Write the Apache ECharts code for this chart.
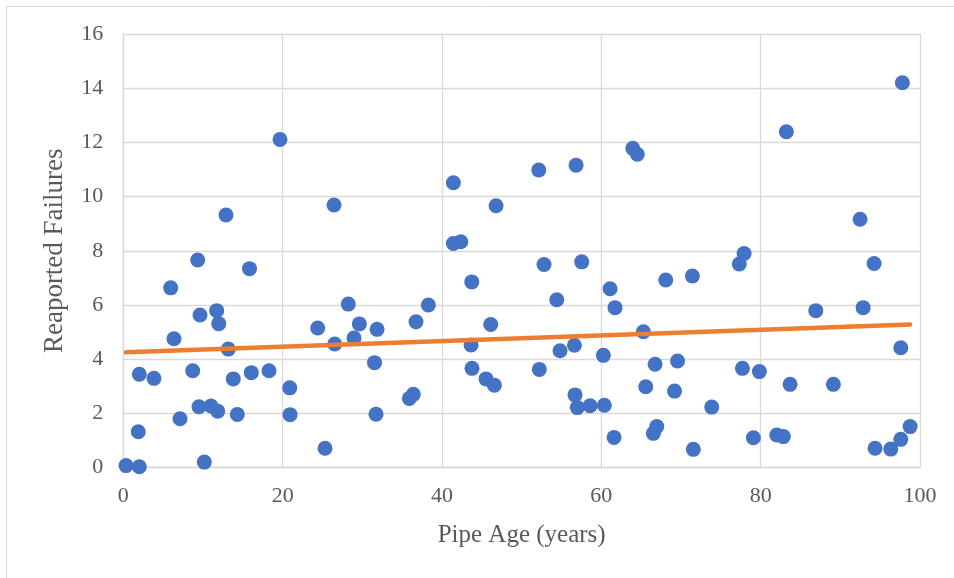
<!DOCTYPE html>
<html>
<head>
<meta charset="utf-8">
<style>
  html, body { margin: 0; padding: 0; background: #fff; }
  #chart { width: 954px; height: 578px; }
</style>
<script src="https://cdn.jsdelivr.net/npm/echarts@6/dist/echarts.min.js"></script>
</head>
<body>
<div id="chart"></div>
<script>
// pipe age (years) of each pipe
const pipeAge = [
  0.34, 2.01, 1.88, 2.01, 3.85, 5.95, 6.36, 7.12, 8.71, 9.34,
  9.63, 9.50, 10.17, 11.01, 11.72, 11.85, 11.98, 12.89, 13.18, 13.81,
  14.31, 15.84, 16.07, 18.29, 19.67, 20.89, 20.93, 24.40, 25.32, 26.45,
  26.54, 28.24, 28.96, 29.63, 31.53, 31.85, 31.72, 35.90, 36.40, 36.74,
  38.29, 41.43, 41.43, 42.36, 43.74, 43.65, 43.77, 45.53, 46.12, 46.57,
  46.79, 52.15, 52.22, 52.81, 54.41, 54.82, 56.62, 56.83, 56.70, 56.99,
  57.54, 58.59, 60.26, 60.38, 61.10, 61.60, 61.72, 63.95, 64.52, 65.28,
  65.58, 66.75, 66.53, 66.96, 68.09, 69.19, 69.57, 71.43, 71.55, 73.86,
  77.32, 77.71, 77.92, 79.09, 79.84, 82.02, 82.85, 83.23, 83.69, 86.92,
  89.13, 92.48, 92.86, 94.24, 94.36, 96.33, 97.59, 97.79, 97.59, 98.76
]

// reported failures, same order as pipeAge
const failures = [
  0.07, 0.03, 1.32, 3.44, 3.29, 6.63, 4.75, 1.80, 3.57, 7.66,
  5.63, 2.24, 0.20, 2.27, 5.79, 2.08, 5.31, 9.32, 4.37, 3.27,
  1.96, 7.34, 3.50, 3.57, 12.11, 2.94, 1.95, 5.15, 0.71, 9.69,
  4.56, 6.03, 4.78, 5.30, 3.87, 5.10, 1.97, 2.55, 2.70, 5.38,
  6.00, 10.51, 8.27, 8.33, 6.85, 4.52, 3.66, 3.27, 5.28, 3.04,
  9.66, 10.98, 3.62, 7.49, 6.19, 4.31, 4.51, 11.16, 2.68, 2.21,
  7.59, 2.28, 4.14, 2.30, 6.60, 1.11, 5.90, 11.78, 11.56, 5.01,
  2.98, 3.81, 1.26, 1.51, 6.92, 2.82, 3.93, 7.07, 0.67, 2.23,
  7.51, 3.66, 7.90, 1.10, 3.54, 1.20, 1.14, 12.39, 3.07, 5.79,
  3.07, 9.16, 5.90, 7.53, 0.71, 0.68, 1.04, 14.20, 4.42, 1.51
]

// linear trendline end points
const trendAge = [0.34, 98.76]
const trendFailures = [4.25, 5.28]

const xTicks = { min: 0, max: 100, interval: 20 }
const yTicks = { min: 0, max: 16, interval: 2 }

const FONT = "Liberation Serif"
const TEXT_COLOR = "#595959"
const GRID_COLOR = "#d9d9d9"

const chart = echarts.init(document.getElementById("chart"), null, { renderer: "canvas" })

chart.setOption({
  animation: false,
  backgroundColor: "#ffffff",
  graphic: [{
    type: "rect",
    shape: { x: 6.5, y: 6.5, width: 1000, height: 1000 },
    style: { fill: "none", stroke: GRID_COLOR, lineWidth: 1 },
    silent: true
  }],
  grid: { left: 123.3, right: 34, top: 34, bottom: 110.5 },
  xAxis: {
    type: "value",
    min: xTicks.min,
    max: xTicks.max,
    interval: xTicks.interval,
    name: "Pipe Age (years)",
    nameLocation: "middle",
    nameGap: 55,
    nameTextStyle: { fontFamily: FONT, fontSize: 25, color: TEXT_COLOR },
    axisLine: { lineStyle: { color: GRID_COLOR, width: 1.3 } },
    axisTick: { show: false },
    axisLabel: { fontFamily: FONT, fontSize: 22, color: TEXT_COLOR, margin: 18 },
    splitLine: { lineStyle: { color: GRID_COLOR, width: 1.3 } }
  },
  yAxis: {
    type: "value",
    min: yTicks.min,
    max: yTicks.max,
    interval: yTicks.interval,
    name: "Reaported Failures",
    nameLocation: "middle",
    nameGap: 55,
    nameTextStyle: { fontFamily: FONT, fontSize: 27, color: TEXT_COLOR },
    axisLine: { show: true, lineStyle: { color: GRID_COLOR, width: 1.3 } },
    axisTick: { show: false },
    axisLabel: { fontFamily: FONT, fontSize: 22, color: TEXT_COLOR, margin: 20 },
    splitLine: { lineStyle: { color: GRID_COLOR, width: 1.3 } }
  },
  series: [
    {
      type: "scatter",
      symbol: "circle",
      symbolSize: 15,
      itemStyle: { color: "#4472c4", opacity: 1 },
      data: pipeAge.map((age, index) => [age, failures[index]]),
      z: 2
    },
    {
      type: "line",
      showSymbol: false,
      symbol: "none",
      lineStyle: { color: "#ed7d31", width: 4.5, cap: "round" },
      data: trendAge.map((age, index) => [age, trendFailures[index]]),
      z: 3
    }
  ]
})
</script>
</body>
</html>
